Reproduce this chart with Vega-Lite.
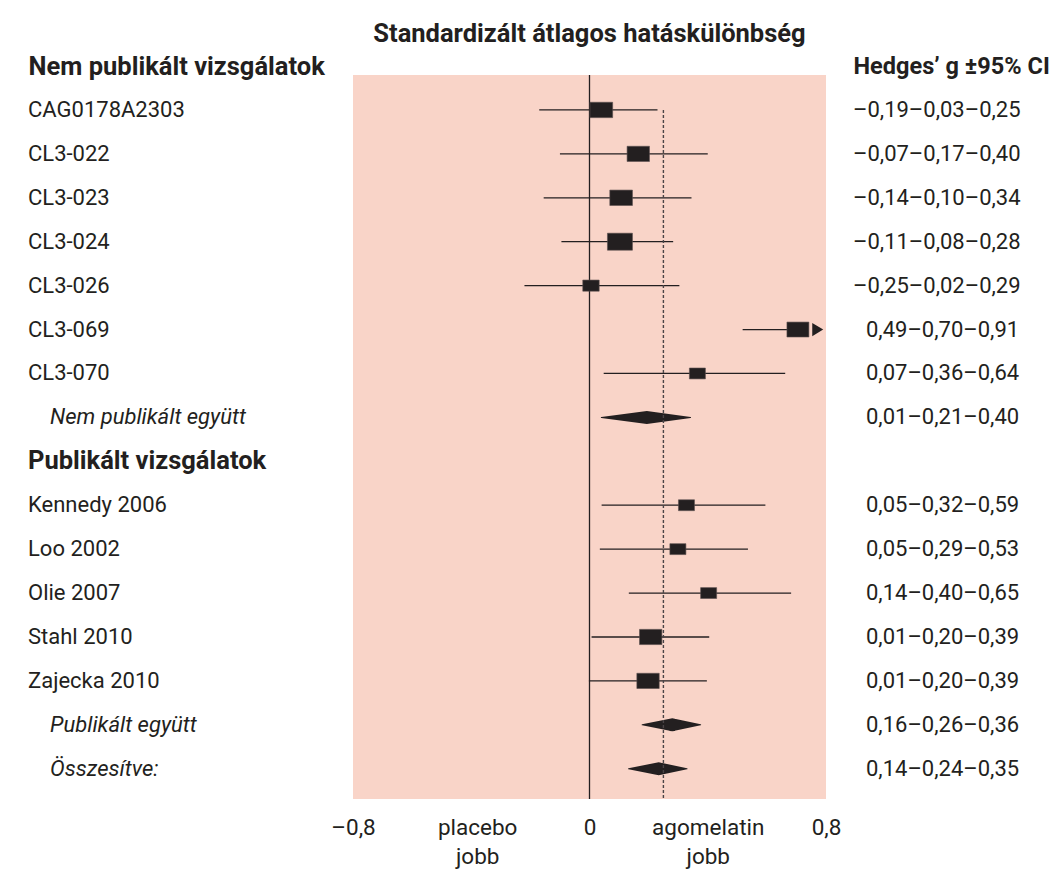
{
  "$schema": "https://vega.github.io/schema/vega-lite/v6.json",
  "width": 473,
  "height": 724,
  "autosize": {"type": "none"},
  "padding": {"left": 353, "top": 75, "right": 227, "bottom": 70},
  "background": "white",
  "title": {
    "text": "Standardizált átlagos hatáskülönbség",
    "font": "Roboto",
    "fontSize": 25.5,
    "fontWeight": "bold",
    "color": "#231f20",
    "anchor": "middle",
    "dy": -3
  },
  "config": {
    "view": {"fill": "#f9d4c8", "stroke": null},
    "font": "Roboto"
  },
  "data": {
    "values": [
      {"label": "CAG0178A2303", "type": "study", "lo": -0.17, "est": 0.04, "hi": 0.23, "w": 8.2, "ci": "–0,19–0,03–0,25"},
      {"label": "CL3-022", "type": "study", "lo": -0.10, "est": 0.165, "hi": 0.40, "w": 8.0, "ci": "–0,07–0,17–0,40"},
      {"label": "CL3-023", "type": "study", "lo": -0.155, "est": 0.107, "hi": 0.345, "w": 8.2, "ci": "–0,14–0,10–0,34"},
      {"label": "CL3-024", "type": "study", "lo": -0.095, "est": 0.103, "hi": 0.283, "w": 10, "ci": "–0,11–0,08–0,28"},
      {"label": "CL3-026", "type": "study", "lo": -0.22, "est": 0.005, "hi": 0.304, "w": 4.3, "ci": "–0,25–0,02–0,29"},
      {"label": "CL3-069", "type": "study", "lo": 0.518, "est": 0.705, "hi": 0.91, "w": 7.7, "ci": "0,49–0,70–0,91"},
      {"label": "CL3-070", "type": "study", "lo": 0.048, "est": 0.365, "hi": 0.662, "w": 4.1, "ci": "0,07–0,36–0,64"},
      {"label": "Nem publikált együtt", "type": "pooled", "lo": 0.04, "est": 0.194, "hi": 0.342, "ci": "0,01–0,21–0,40"},
      {"label": "Publikált vizsgálatok", "type": "header"},
      {"label": "Kennedy 2006", "type": "study", "lo": 0.041, "est": 0.328, "hi": 0.595, "w": 4.1, "ci": "0,05–0,32–0,59"},
      {"label": "Loo 2002", "type": "study", "lo": 0.035, "est": 0.299, "hi": 0.536, "w": 4.1, "ci": "0,05–0,29–0,53"},
      {"label": "Olie 2007", "type": "study", "lo": 0.133, "est": 0.403, "hi": 0.682, "w": 4.1, "ci": "0,14–0,40–0,65"},
      {"label": "Stahl 2010", "type": "study", "lo": 0.007, "est": 0.207, "hi": 0.405, "w": 8.0, "ci": "0,01–0,20–0,39"},
      {"label": "Zajecka 2010", "type": "study", "lo": -0.002, "est": 0.198, "hi": 0.397, "w": 8.0, "ci": "0,01–0,20–0,39"},
      {"label": "Publikált együtt", "type": "pooled", "lo": 0.178, "est": 0.28, "hi": 0.376, "ci": "0,16–0,26–0,36"},
      {"label": "Összesítve:", "type": "pooled", "lo": 0.132, "est": 0.234, "hi": 0.33, "ci": "0,14–0,24–0,35"}
    ]
  },
  "layer": [
    {
      "data": {"values": [{}]},
      "mark": {"type": "rule", "color": "#231f20", "strokeWidth": 1.3},
      "encoding": {
        "x": {
          "datum": 0,
          "type": "quantitative",
          "scale": {"domain": [-0.8, 0.8], "nice": false, "zero": false},
          "axis": {
            "values": [-0.8, -0.38, 0, 0.4, 0.8],
            "labelExpr": "datum.value == -0.8 ? '–0,8' : datum.value == 0.8 ? '0,8' : datum.value == 0 ? '0' : datum.value < 0 ? ['placebo', 'jobb'] : ['agomelatin', 'jobb']",
            "ticks": false,
            "tickSize": 0,
            "domain": false,
            "grid": false,
            "title": null,
            "labelFont": "Roboto",
            "labelFontSize": 22.5,
            "labelColor": "#231f20",
            "labelPadding": 17,
            "labelBaseline": "top",
            "labelLineHeight": 29,
            "labelFlush": false,
            "labelOverlap": false
          }
        }
      }
    },
    {
      "transform": [{"filter": "datum.type === 'study' && datum.hi <= 0.8"}],
      "mark": {"type": "rule", "color": "#231f20", "strokeWidth": 1.3},
      "encoding": {
        "x": {"field": "lo", "type": "quantitative", "scale": {"domain": [-0.8, 0.8], "nice": false, "zero": false}},
        "x2": {"field": "hi"},
        "y": {
          "field": "label",
          "type": "nominal",
          "scale": {"type": "band", "domain": ["CAG0178A2303", "CL3-022", "CL3-023", "CL3-024", "CL3-026", "CL3-069", "CL3-070", "Nem publikált együtt", "Publikált vizsgálatok", "Kennedy 2006", "Loo 2002", "Olie 2007", "Stahl 2010", "Zajecka 2010", "Publikált együtt", "Összesítve:"], "paddingInner": 0, "paddingOuter": 0.2425, "align": 0.61},
          "axis": {
            "orient": "left",
            "title": "Nem publikált vizsgálatok",
            "titleAngle": 0,
            "titleAlign": "left",
            "titleBaseline": "middle",
            "titleX": -325,
            "titleY": -9,
            "titleFont": "Roboto",
            "titleFontSize": 25.5,
            "titleFontWeight": "bold",
            "titleColor": "#231f20",
            "ticks": false,
            "tickSize": 0,
            "domain": false,
            "grid": false,
            "labelAlign": "left",
            "labelBaseline": "middle",
            "labelLimit": 500,
            "labelColor": "#231f20",
            "labelPadding": {"condition": {"test": "indexof(['Nem publikált együtt', 'Publikált együtt', 'Összesítve:'], datum.value) >= 0", "value": 303.5}, "value": 325.5},
            "labelFont": "Roboto",
            "labelFontSize": {"condition": {"test": "datum.value === 'Publikált vizsgálatok'", "value": 25.5}, "value": 22},
            "labelFontWeight": {"condition": {"test": "datum.value === 'Publikált vizsgálatok'", "value": "bold"}, "value": "normal"},
            "labelFontStyle": {"condition": {"test": "indexof(['Nem publikált együtt', 'Publikált együtt', 'Összesítve:'], datum.value) >= 0", "value": "italic"}, "value": "normal"}
          }
        }
      }
    },
    {
      "transform": [{"filter": "datum.type === 'study' && datum.hi > 0.8"}],
      "mark": {"type": "rule", "color": "#231f20", "strokeWidth": 1.3},
      "encoding": {
        "x": {"field": "lo", "type": "quantitative", "scale": {"domain": [-0.8, 0.8], "nice": false, "zero": false}},
        "x2": {"field": "est"},
        "y": {
          "field": "label",
          "type": "nominal",
          "scale": {"type": "band", "domain": ["CAG0178A2303", "CL3-022", "CL3-023", "CL3-024", "CL3-026", "CL3-069", "CL3-070", "Nem publikált együtt", "Publikált vizsgálatok", "Kennedy 2006", "Loo 2002", "Olie 2007", "Stahl 2010", "Zajecka 2010", "Publikált együtt", "Összesítve:"], "paddingInner": 0, "paddingOuter": 0.2425, "align": 0.61},
          "axis": null
        }
      }
    },
    {
      "transform": [{"filter": "datum.type === 'study'"}],
      "mark": {"type": "point", "shape": "M-1,-0.68L1,-0.68L1,0.68L-1,0.68Z", "filled": true, "opacity": 1, "color": "#231f20", "stroke": "#5a4f4f", "strokeWidth": 0.6},
      "encoding": {
        "x": {"field": "est", "type": "quantitative", "scale": {"domain": [-0.8, 0.8], "nice": false, "zero": false}},
        "y": {
          "field": "label",
          "type": "nominal",
          "scale": {"type": "band", "domain": ["CAG0178A2303", "CL3-022", "CL3-023", "CL3-024", "CL3-026", "CL3-069", "CL3-070", "Nem publikált együtt", "Publikált vizsgálatok", "Kennedy 2006", "Loo 2002", "Olie 2007", "Stahl 2010", "Zajecka 2010", "Publikált együtt", "Összesítve:"], "paddingInner": 0, "paddingOuter": 0.2425, "align": 0.61},
          "axis": null
        },
        "size": {"field": "w", "type": "quantitative", "scale": {"type": "linear", "domain": [0, 10], "range": [0, 625]}, "legend": null}
      }
    },
    {
      "transform": [{"filter": "datum.type === 'study' && datum.hi > 0.8"}],
      "mark": {"type": "point", "shape": "M-1,-1.2L1,0L-1,1.2Z", "filled": true, "opacity": 1, "color": "#231f20", "size": 121},
      "encoding": {
        "x": {"datum": 0.772, "type": "quantitative", "scale": {"domain": [-0.8, 0.8], "nice": false, "zero": false}},
        "y": {
          "field": "label",
          "type": "nominal",
          "scale": {"type": "band", "domain": ["CAG0178A2303", "CL3-022", "CL3-023", "CL3-024", "CL3-026", "CL3-069", "CL3-070", "Nem publikált együtt", "Publikált vizsgálatok", "Kennedy 2006", "Loo 2002", "Olie 2007", "Stahl 2010", "Zajecka 2010", "Publikált együtt", "Összesítve:"], "paddingInner": 0, "paddingOuter": 0.2425, "align": 0.61},
          "axis": null
        }
      }
    },
    {
      "transform": [
        {"filter": "datum.type === 'pooled'"},
        {"fold": ["lo", "est", "hi"], "as": ["key", "value"]}
      ],
      "mark": {"type": "trail", "color": "#231f20"},
      "encoding": {
        "x": {"field": "value", "type": "quantitative", "scale": {"domain": [-0.8, 0.8], "nice": false, "zero": false}},
        "y": {
          "field": "label",
          "type": "nominal",
          "scale": {"type": "band", "domain": ["CAG0178A2303", "CL3-022", "CL3-023", "CL3-024", "CL3-026", "CL3-069", "CL3-070", "Nem publikált együtt", "Publikált vizsgálatok", "Kennedy 2006", "Loo 2002", "Olie 2007", "Stahl 2010", "Zajecka 2010", "Publikált együtt", "Összesítve:"], "paddingInner": 0, "paddingOuter": 0.2425, "align": 0.61},
          "axis": null
        },
        "detail": {"field": "label", "type": "nominal"},
        "size": {"condition": {"test": "datum.key === 'est'", "value": 13}, "value": 0}
      }
    },
    {
      "data": {"values": [{}]},
      "mark": {"type": "rule", "color": "#4a4446", "strokeWidth": 1.4, "strokeDash": [3, 2]},
      "encoding": {
        "x": {"datum": 0.25, "type": "quantitative", "scale": {"domain": [-0.8, 0.8], "nice": false, "zero": false}},
        "y": {
          "datum": "CAG0178A2303",
          "type": "nominal",
          "scale": {"type": "band", "domain": ["CAG0178A2303", "CL3-022", "CL3-023", "CL3-024", "CL3-026", "CL3-069", "CL3-070", "Nem publikált együtt", "Publikált vizsgálatok", "Kennedy 2006", "Loo 2002", "Olie 2007", "Stahl 2010", "Zajecka 2010", "Publikált együtt", "Összesítve:"], "paddingInner": 0, "paddingOuter": 0.2425, "align": 0.61},
          "axis": null
        },
        "y2": {"value": "height"}
      }
    },
    {
      "transform": [{"filter": "datum.ci && indexof(datum.ci, '–') === 0"}],
      "mark": {"type": "text", "align": "left", "baseline": "middle", "dx": 27, "fontSize": 22, "font": "Roboto", "color": "#231f20"},
      "encoding": {
        "x": {"value": "width"},
        "y": {
          "field": "label",
          "type": "nominal",
          "scale": {"type": "band", "domain": ["CAG0178A2303", "CL3-022", "CL3-023", "CL3-024", "CL3-026", "CL3-069", "CL3-070", "Nem publikált együtt", "Publikált vizsgálatok", "Kennedy 2006", "Loo 2002", "Olie 2007", "Stahl 2010", "Zajecka 2010", "Publikált együtt", "Összesítve:"], "paddingInner": 0, "paddingOuter": 0.2425, "align": 0.61},
          "axis": {
            "orient": "right",
            "labels": false,
            "ticks": false,
            "tickSize": 0,
            "domain": false,
            "grid": false,
            "title": "Hedges’ g ±95% CI",
            "titleAngle": 0,
            "titleAlign": "left",
            "titleBaseline": "middle",
            "titleX": 27,
            "titleY": -9,
            "titleFont": "Roboto",
            "titleFontSize": 23.5,
            "titleFontWeight": "bold",
            "titleColor": "#231f20"
          }
        },
        "text": {"field": "ci", "type": "nominal"}
      }
    },
    {
      "transform": [{"filter": "datum.ci && indexof(datum.ci, '–') !== 0"}],
      "mark": {"type": "text", "align": "left", "baseline": "middle", "dx": 40, "fontSize": 22, "font": "Roboto", "color": "#231f20"},
      "encoding": {
        "x": {"value": "width"},
        "y": {
          "field": "label",
          "type": "nominal",
          "scale": {"type": "band", "domain": ["CAG0178A2303", "CL3-022", "CL3-023", "CL3-024", "CL3-026", "CL3-069", "CL3-070", "Nem publikált együtt", "Publikált vizsgálatok", "Kennedy 2006", "Loo 2002", "Olie 2007", "Stahl 2010", "Zajecka 2010", "Publikált együtt", "Összesítve:"], "paddingInner": 0, "paddingOuter": 0.2425, "align": 0.61},
          "axis": null
        },
        "text": {"field": "ci", "type": "nominal"}
      }
    }
  ],
  "resolve": {"axis": {"y": "independent"}}
}
